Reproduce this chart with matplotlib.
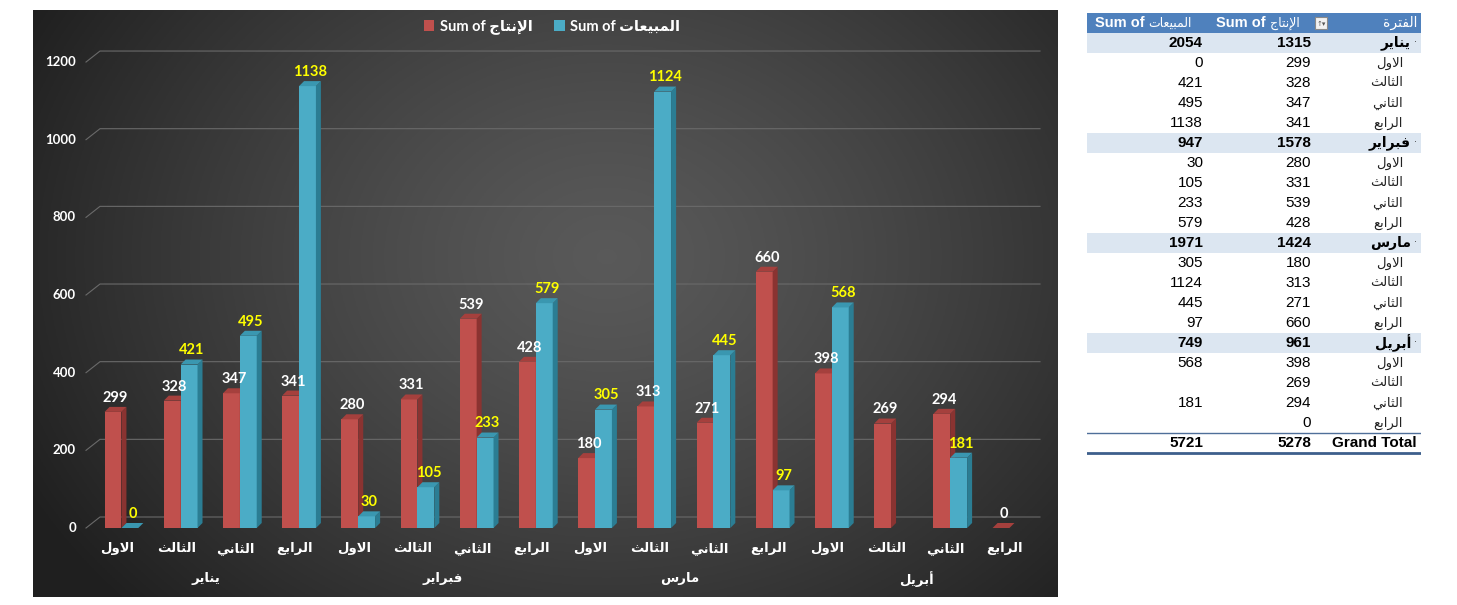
import numpy as np
import matplotlib.pyplot as plt
from matplotlib.patches import Polygon, Rectangle, Patch

months = ['يناير', 'فبراير', 'مارس', 'أبريل']
weeks = ['الاول', 'الثالث', 'الثاني', 'الرابع']
production = [299, 328, 347, 341, 280, 331, 539, 428, 180, 313, 271, 660, 398, 269, 294, 0]
sales = [0, 421, 495, 1138, 30, 105, 233, 579, 305, 1124, 445, 97, 568, np.nan, 181, np.nan]
prod_name = 'الإنتاج'
sales_name = 'المبيعات'
period_name = 'الفترة'
yticks = [0, 200, 400, 600, 800, 1000, 1200]

# --- tiny arabic shaper (matplotlib has no RTL / joining support) ---
FORMS = {  # isolated, final, initial, medial
    'ا': (0xFE8D, 0xFE8E, None, None), 'أ': (0xFE83, 0xFE84, None, None),
    'إ': (0xFE87, 0xFE88, None, None), 'ب': (0xFE8F, 0xFE90, 0xFE91, 0xFE92),
    'ة': (0xFE93, 0xFE94, None, None), 'ت': (0xFE95, 0xFE96, 0xFE97, 0xFE98),
    'ث': (0xFE99, 0xFE9A, 0xFE9B, 0xFE9C), 'ج': (0xFE9D, 0xFE9E, 0xFE9F, 0xFEA0),
    'ر': (0xFEAD, 0xFEAE, None, None), 'س': (0xFEB1, 0xFEB2, 0xFEB3, 0xFEB4),
    'ع': (0xFEC9, 0xFECA, 0xFECB, 0xFECC), 'ف': (0xFED1, 0xFED2, 0xFED3, 0xFED4),
    'ل': (0xFEDD, 0xFEDE, 0xFEDF, 0xFEE0), 'م': (0xFEE1, 0xFEE2, 0xFEE3, 0xFEE4),
    'ن': (0xFEE5, 0xFEE6, 0xFEE7, 0xFEE8), 'و': (0xFEED, 0xFEEE, None, None),
    'ي': (0xFEF1, 0xFEF2, 0xFEF3, 0xFEF4),
    'لا': (0xFEFB, 0xFEFC, None, None), 'لأ': (0xFEF7, 0xFEF8, None, None),
    'لإ': (0xFEF9, 0xFEFA, None, None),
}


def ar(word):
    toks = []
    i = 0
    while i < len(word):
        if word[i] == 'ل' and i + 1 < len(word) and word[i + 1] in 'اأإ':
            toks.append(word[i:i + 2])
            i += 2
        else:
            toks.append(word[i])
            i += 1
    out = []
    for k, t in enumerate(toks):
        f = FORMS.get(t)
        if f is None:
            out.append(t)
            continue
        prev = FORMS.get(toks[k - 1]) if k > 0 else None
        nxt = FORMS.get(toks[k + 1]) if k + 1 < len(toks) else None
        jp = prev is not None and prev[2] is not None
        jn = nxt is not None and f[2] is not None
        if jp and jn:
            c = f[3]
        elif jp:
            c = f[1]
        elif jn:
            c = f[2]
        else:
            c = f[0]
        out.append(chr(c))
    return ''.join(reversed(out))


W, H = 1457, 605
fig = plt.figure(figsize=(W / 100, H / 100), dpi=100)
fig.patch.set_facecolor('white')

chart_font = ['Lato', 'DejaVu Sans']
table_font = ['Liberation Sans', 'DejaVu Sans']

# dark gradient chart area
bg = fig.add_axes([33 / W, 1 - 597 / H, (1058 - 33) / W, (597 - 10) / H])
gx, gy = np.meshgrid(np.linspace(0, 1, 400), np.linspace(0, 1, 240))
r = np.sqrt(((gx - 0.56) / 0.58) ** 2 + ((gy - 0.42) / 0.8) ** 2)
g = 0.35 - 0.2 * np.clip(r, 0, 1.1) ** 1.3
bg.imshow(np.dstack([g, g, g]), aspect='auto', extent=(0, 1, 1, 0))
bg.axis('off')

# main axes, pixel mapping: x_px = 117 + 59.2*i, y_px = 528 - 0.3883*v
x0p, dxp, y0p, syp = 117, 59.2, 528, 0.3883
xlim = (-0.9, 15.75)
ylim = (-150, 1250)
l = x0p + xlim[0] * dxp
rr = x0p + xlim[1] * dxp
b = y0p - ylim[0] * syp
t = y0p - ylim[1] * syp
ax = fig.add_axes([l / W, 1 - b / H, (rr - l) / W, (b - t) / H])
ax.set_xlim(*xlim)
ax.set_ylim(*ylim)
ax.axis('off')

n = len(production)
x = np.arange(n)
ddx, ddy = 5 / dxp, 5 / syp
back = 11 / syp
gx0, gx1, gxd = (100 - x0p) / dxp, (1040 - x0p) / dxp, (86 - x0p) / dxp

for v in yticks:
    ax.plot([gxd, gx0, gx1], [v, v + back, v + back], color='#6a6a6a', lw=0.8, zorder=1)
    ax.text((76 - x0p) / dxp, v, str(v), ha='right', va='center', color='white',
            fontsize=9.5, fontweight='bold', family=chart_font)

w = 0.285
red = ('#c0504d', '#8a3331', '#a5403d')
teal = ('#4bacc6', '#2b7d93', '#3a97b0')


def bars3d(xs, vals, cols, z, txtcol):
    cont = ax.bar(xs, vals, width=w, align='edge', color=cols[0], zorder=z)
    for rect, v in zip(cont.patches, vals):
        if np.isnan(v):
            continue
        a = rect.get_x()
        e = a + rect.get_width()
        ax.add_patch(Polygon([(e, 0), (e, v), (e + ddx, v + ddy), (e + ddx, ddy)],
                             closed=True, fc=cols[1], ec='none', zorder=z))
        ax.add_patch(Polygon([(a, v), (e, v), (e + ddx, v + ddy), (a + ddx, v + ddy)],
                             closed=True, fc=cols[2], ec='none', zorder=z))
        ax.annotate(f'{v:.0f}', (a + (e - a + ddx) / 2, v + ddy), xytext=(0, 1.5),
                    textcoords='offset points', ha='center', va='bottom',
                    color=txtcol, fontsize=10.5, fontweight='bold', family=chart_font,
                    zorder=6)
    return cont


bars3d(x - 0.21, np.array(production, float), red, 3, 'white')
bars3d(x + 0.075, np.array(sales, float), teal, 4, '#ffff00')

for i in range(n):
    ax.text(i, -54, ar(weeks[i % 4]), ha='center', va='center', color='white',
            fontsize=9.5, fontweight='bold', family=['DejaVu Sans'])
for m, name in enumerate(months):
    ax.text(m * 4 + 1.5, -131, ar(name), ha='center', va='center', color='white',
            fontsize=9.5, fontweight='bold', family=['DejaVu Sans'])

handles = [Patch(fc=red[0]), Patch(fc=teal[0])]
labels = ['Sum of ' + ar(prod_name), 'Sum of ' + ar(sales_name)]
leg = fig.legend(handles, labels, loc='center', ncol=2, frameon=False,
                 bbox_to_anchor=(552 / W, 1 - 27 / H), handlelength=0.7, handleheight=0.7,
                 handletextpad=0.4, columnspacing=1.5,
                 prop={'family': chart_font, 'weight': 'bold', 'size': 10.5})
for txt in leg.get_texts():
    txt.set_color('white')

# pivot table on the right, drawn in pixel coordinates
tab = fig.add_axes([1087 / W, 1 - 456 / H, (1421 - 1087) / W, (456 - 12) / H])
tab.set_xlim(1087, 1421)
tab.set_ylim(456, 12)
tab.axis('off')

prod = np.array(production, float)
sal = np.array(sales, float)
rows = []
for m, name in enumerate(months):
    s = slice(m * 4, m * 4 + 4)
    rows.append((name, prod[s].sum(), np.nansum(sal[s]), 'month'))
    for k in range(4):
        rows.append((weeks[k], prod[m * 4 + k], sal[m * 4 + k], 'week'))

xl, xr = 1087, 1421
cx_lab, cx_prod, cx_sal = 1417, 1311, 1203
tab.add_patch(Rectangle((xl, 13), xr - xl, 20, fc='#4f81bd', ec='none'))
tab.text(cx_lab, 23, ar(period_name), ha='right', va='center', color='white',
         fontsize=10, family=['DejaVu Sans'])
for right, name in [(1300, prod_name), (1192, sales_name)]:
    art = tab.text(right, 23, ar(name), ha='right', va='center', color='white',
                   fontsize=9, family=['DejaVu Sans'])
    tab.annotate('Sum of', xy=(0, 0.5), xycoords=art, xytext=(-3, 0),
                 textcoords='offset points', ha='right', va='center', color='white',
                 fontsize=10.5, fontweight='bold', family=table_font)
tab.add_patch(Rectangle((1315, 17), 12, 12, fc='#f2f2f2', ec='#8a8a8a', lw=0.8))
tab.text(1321, 23.5, '↑▾', ha='center', va='center', color='#555555', fontsize=5,
         family=['DejaVu Sans'])

for k, (name, pv, sv, kind) in enumerate(rows):
    yc = 43 + 20 * k
    bold = kind == 'month'
    if bold:
        tab.add_patch(Rectangle((xl, yc - 10), xr - xl, 20, fc='#dce6f1', ec='none'))
        tab.text(1411, yc, ar(name), ha='right', va='center', color='black',
                 fontsize=10, fontweight='bold', family=['DejaVu Sans'])
        tab.text(1416, yc - 1, '·', ha='center', va='center', color='#444444', fontsize=7)
    else:
        tab.text(1403, yc, ar(name), ha='right', va='center', color='#222222',
                 fontsize=9.5, family=['DejaVu Sans'])
    tab.text(cx_prod, yc, f'{pv:.0f}', ha='right', va='center', color='black',
             fontsize=11, fontweight='bold' if bold else 'normal', family=table_font)
    if not np.isnan(sv):
        tab.text(cx_sal, yc, f'{sv:.0f}', ha='right', va='center', color='black',
                 fontsize=11, fontweight='bold' if bold else 'normal', family=table_font)

yc = 43 + 20 * len(rows)
tab.plot([xl, xr], [yc - 10, yc - 10], color='#4f6f99', lw=1)
tab.plot([xl, xr], [yc + 10, yc + 10], color='#3d5f8c', lw=2)
tab.text(cx_lab, yc, 'Grand Total', ha='right', va='center', color='black',
         fontsize=11, fontweight='bold', family=table_font)
tab.text(cx_prod, yc, f'{prod.sum():.0f}', ha='right', va='center', color='black',
         fontsize=11, fontweight='bold', family=table_font)
tab.text(cx_sal, yc, f'{np.nansum(sal):.0f}', ha='right', va='center', color='black',
         fontsize=11, fontweight='bold', family=table_font)

fig.savefig('out.png', dpi=100, facecolor='white')
